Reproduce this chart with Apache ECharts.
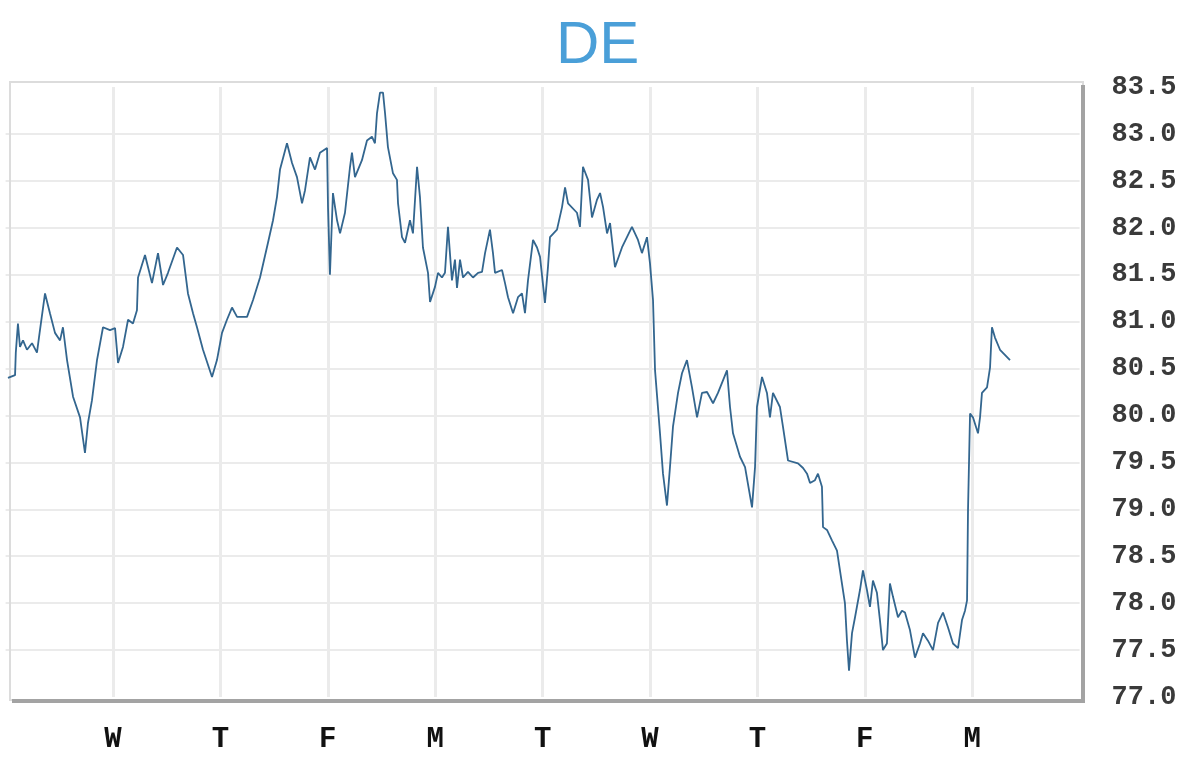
<!DOCTYPE html>
<html>
<head>
<meta charset="utf-8">
<script src="https://cdn.jsdelivr.net/npm/echarts@6/dist/echarts.min.js"></script>
<style>
html,body{margin:0;padding:0;background:#fff;}
#chart{width:1200px;height:771px;}
</style>
</head>
<body>
<div id="chart"></div>
<script>
// Title
const titleText = 'DE';
// Day tick labels (at x = 1..9)
const dayLabels = ['W','T','F','M','T','W','T','F','M'];
// Y tick settings
const yMin = 77.0, yMax = 83.5, yStep = 0.5;
// Series: x position in trading days, y value
const xDays = [
0.022,0.088,0.095,0.115,0.134,0.162,0.199,0.246,0.292,0.320,
0.367,0.413,0.460,0.507,0.534,0.572,0.628,0.693,0.739,0.767,
0.804,0.851,0.907,0.972,1.019,1.047,1.093,1.140,1.186,1.223,
1.233,1.298,1.363,1.419,1.466,1.512,1.596,1.652,1.698,1.745,
1.782,1.838,1.922,1.968,2.015,2.061,2.108,2.155,2.248,2.304,
2.369,2.443,2.490,2.527,2.555,2.620,2.667,2.713,2.760,2.788,
2.834,2.881,2.927,2.993,3.002,3.020,3.048,3.086,3.114,3.160,
3.207,3.225,3.253,3.318,3.365,3.411,3.439,3.458,3.486,3.514,
3.533,3.560,3.607,3.644,3.654,3.691,3.719,3.765,3.793,3.831,
3.858,3.886,3.933,3.952,3.998,4.026,4.063,4.091,4.119,4.156,
4.184,4.203,4.231,4.259,4.305,4.352,4.399,4.436,4.464,4.510,
4.538,4.557,4.622,4.650,4.678,4.725,4.771,4.808,4.836,4.864,
4.911,4.948,4.976,5.022,5.050,5.069,5.134,5.181,5.209,5.237,
5.320,5.348,5.376,5.423,5.460,5.507,5.535,5.563,5.600,5.628,
5.674,5.739,5.832,5.888,5.925,5.972,6.000,6.028,6.047,6.093,
6.121,6.158,6.186,6.214,6.261,6.298,6.344,6.391,6.438,6.484,
6.531,6.587,6.633,6.717,6.745,6.773,6.838,6.885,6.950,6.978,
6.996,7.043,7.089,7.117,7.145,7.210,7.238,7.285,7.378,7.425,
7.462,7.490,7.536,7.564,7.601,7.611,7.648,7.694,7.741,7.787,
7.815,7.834,7.853,7.881,7.909,7.955,7.983,8.020,8.048,8.076,
8.113,8.141,8.169,8.206,8.234,8.262,8.309,8.346,8.374,8.421,
8.467,8.514,8.542,8.588,8.635,8.682,8.728,8.775,8.821,8.868,
8.905,8.933,8.952,8.961,8.980,9.007,9.054,9.073,9.091,9.138,
9.166,9.184,9.212,9.259,9.352
];
const values = [
80.40,80.43,80.67,80.98,80.73,80.80,80.70,80.77,80.67,80.91,
81.30,81.09,80.88,80.80,80.94,80.59,80.20,79.98,79.60,79.92,
80.16,80.59,80.94,80.91,80.93,80.56,80.73,81.02,80.98,81.12,
81.47,81.71,81.41,81.73,81.39,81.52,81.79,81.71,81.30,81.09,
80.94,80.70,80.41,80.59,80.88,81.02,81.15,81.05,81.05,81.23,
81.47,81.84,82.08,82.33,82.62,82.90,82.69,82.54,82.26,82.40,
82.75,82.62,82.80,82.85,82.22,81.50,82.37,82.08,81.94,82.16,
82.65,82.80,82.54,82.72,82.93,82.97,82.90,83.22,83.44,83.44,
83.22,82.86,82.58,82.51,82.26,81.90,81.84,82.08,81.94,82.65,
82.33,81.79,81.52,81.21,81.37,81.52,81.47,81.52,82.01,81.44,
81.66,81.36,81.66,81.47,81.53,81.47,81.52,81.53,81.73,81.98,
81.73,81.52,81.55,81.41,81.26,81.09,81.26,81.30,81.09,81.44,
81.87,81.79,81.69,81.20,81.58,81.90,81.98,82.22,82.43,82.26,
82.16,82.01,82.65,82.51,82.11,82.30,82.37,82.22,81.94,82.05,
81.58,81.79,82.01,81.87,81.73,81.90,81.62,81.23,80.48,79.81,
79.38,79.04,79.45,79.88,80.24,80.45,80.59,80.30,79.98,80.24,
80.25,80.13,80.24,80.48,80.09,79.81,79.56,79.45,79.02,79.45,
80.09,80.41,80.24,79.98,80.24,80.09,79.88,79.52,79.49,79.44,
79.38,79.28,79.31,79.38,79.24,78.81,78.78,78.67,78.56,78.21,
78.00,77.60,77.28,77.68,77.85,78.14,78.35,78.14,77.96,78.24,
78.11,77.82,77.50,77.57,78.21,78.07,77.85,77.92,77.90,77.71,
77.42,77.57,77.68,77.60,77.50,77.79,77.90,77.74,77.57,77.52,
77.82,77.92,78.03,78.99,80.02,79.98,79.81,79.98,80.24,80.30,
80.51,80.94,80.83,80.70,80.59
];

const seriesData = xDays.map((d, i) => [d, values[i]]);

const chart = echarts.init(document.getElementById('chart'), null, {renderer: 'canvas'});
chart.setOption({
  animation: false,
  backgroundColor: '#ffffff',
  title: {
    text: titleText,
    left: 551,
    top: 11,
    textStyle: {
      color: '#4a9fd8',
      fontSize: 60,
      fontWeight: 'normal',
      fontFamily: 'Liberation Sans, Arial, sans-serif'
    }
  },
  grid: {
    left: 5.6,
    right: 120.4,
    top: 87,
    bottom: 74,
    containLabel: false
  },
  xAxis: {
    type: 'value',
    min: 0,
    max: 10,
    interval: 1,
    axisLine: {show: false},
    axisTick: {show: false},
    axisLabel: {
      margin: 28,
      color: '#111',
      fontSize: 29,
      fontWeight: 'bold',
      fontFamily: 'Liberation Mono, monospace',
      formatter: v => dayLabels[v - 1] || ''
    },
    splitLine: {
      show: true,
      showMinLine: false,
      showMaxLine: false,
      lineStyle: {color: '#ebebeb', width: 3}
    }
  },
  yAxis: {
    type: 'value',
    position: 'right',
    min: yMin,
    max: yMax,
    interval: yStep,
    axisLine: {show: false},
    axisTick: {show: false},
    axisLabel: {
      margin: 32,
      color: '#3a3a3a',
      fontSize: 27,
      fontWeight: 'bold',
      fontFamily: 'Liberation Mono, monospace',
      formatter: v => v.toFixed(1)
    },
    splitLine: {
      show: true,
      showMinLine: false,
      showMaxLine: false,
      lineStyle: {color: '#ebebeb', width: 2}
    }
  },
  graphic: [
    {type: 'rect', z: 1, silent: true,
     shape: {x: 10, y: 82, width: 1073, height: 618},
     style: {fill: 'none', stroke: '#dcdcdc', lineWidth: 2}},
    {type: 'line', z: 1, silent: true,
     shape: {x1: 12, y1: 701, x2: 1085, y2: 701},
     style: {stroke: '#a3a3a3', lineWidth: 4}},
    {type: 'line', z: 1, silent: true,
     shape: {x1: 1083, y1: 85, x2: 1083, y2: 703},
     style: {stroke: '#a3a3a3', lineWidth: 4}}
  ],
  series: [{
    type: 'line',
    data: seriesData,
    showSymbol: false,
    smooth: false,
    z: 5,
    lineStyle: {color: '#33668f', width: 1.8}
  }]
});
</script>
</body>
</html>
